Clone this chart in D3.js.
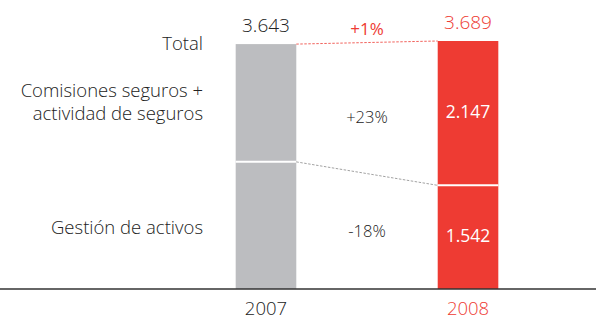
<!DOCTYPE html>
<html>
<head>
<meta charset="utf-8">
<script src="https://cdn.jsdelivr.net/npm/d3@7"></script>
<style>
  html, body { margin: 0; padding: 0; background: #fff; }
  svg { display: block; font-family: "Open Sans", "Noto Sans", sans-serif; font-weight: 300; }
</style>
</head>
<body>
<svg id="chart" width="596" height="320"></svg>
<script>
// Years shown on the horizontal axis
const years = ["2007", "2008"];
// Stack components (millions), bottom to top
const gestionActivos = [1891, 1542];
const comisionesSeguros = [1752, 2147];
const totals = [3643, 3689];
// Row labels for the stack components
const rowLabels = [["Total"], ["Comisiones seguros +", "actividad de seguros"], ["Gestión de activos"]];
// Year-over-year change labels: total, seguros, gestión
const changeLabels = ["+1%", "+23%", "-18%"];

const GREY = "#bcbdc0";
const RED = "#ee3b33";
const INK = "#222222";

const svg = d3.select("#chart");
const baseY = 289;

const x = d3.scaleBand().domain(years).range([207, 527]).paddingInner(0.7).paddingOuter(0.142);
const y = d3.scaleLinear().domain([0, 3689]).range([baseY, 41]);
const fill = d3.scaleOrdinal().domain(years).range([GREY, RED]);

const stacks = years.map((yr, i) => ({
  year: yr,
  segments: [
    { key: "gestion", y0: 0, y1: gestionActivos[i] },
    { key: "seguros", y0: gestionActivos[i], y1: gestionActivos[i] + comisionesSeguros[i] }
  ],
  total: totals[i]
}));

// Bars
const groups = svg.selectAll("g.bar").data(stacks).join("g").attr("class", "bar");
groups.selectAll("rect")
  .data(d => d.segments.map(s => ({ ...s, year: d.year })))
  .join("rect")
  .attr("x", d => x(d.year))
  .attr("width", x.bandwidth())
  .attr("y", d => y(d.y1))
  .attr("height", d => y(d.y0) - y(d.y1))
  .attr("fill", d => fill(d.year));

// White divider between the two segments
groups.append("line")
  .attr("x1", d => x(d.year))
  .attr("x2", d => x(d.year) + x.bandwidth())
  .attr("y1", d => y(d.segments[0].y1))
  .attr("y2", d => y(d.segments[0].y1))
  .attr("stroke", "#fff")
  .attr("stroke-width", 2);

// Dashed connectors between the bars
const xr = x(years[0]) + x.bandwidth();
const xl = x(years[1]);
svg.append("line")
  .attr("x1", xr).attr("x2", xl)
  .attr("y1", y(totals[0])).attr("y2", y(totals[1]))
  .attr("stroke", RED).attr("stroke-width", 0.8).attr("stroke-dasharray", "2.5,1.5");
svg.append("line")
  .attr("x1", xr).attr("x2", xl)
  .attr("y1", y(gestionActivos[0])).attr("y2", y(gestionActivos[1]))
  .attr("stroke", "#8a8a8a").attr("stroke-width", 0.8).attr("stroke-dasharray", "2.5,1.5");

// Baseline axis
svg.append("line")
  .attr("x1", 0).attr("x2", 596).attr("y1", baseY).attr("y2", baseY)
  .attr("stroke", "#333").attr("stroke-width", 1.5);

// Year labels
svg.selectAll("text.year").data(years).join("text")
  .attr("class", "year")
  .attr("x", d => x(d) + x.bandwidth() / 2)
  .attr("y", 315)
  .attr("text-anchor", "middle")
  .attr("font-size", 18.5)
  .attr("fill", (d, i) => i === 0 ? INK : RED)
  .text(d => d);

// Totals above bars
const fmt = v => d3.format(",")(v).replace(/,/g, ".");
svg.selectAll("text.total").data(stacks).join("text")
  .attr("class", "total")
  .attr("x", d => x(d.year) + x.bandwidth() / 2)
  .attr("y", d => y(d.total) - 12)
  .attr("text-anchor", "middle")
  .attr("font-size", 19)
  .attr("fill", (d, i) => i === 0 ? INK : RED)
  .text(d => fmt(d.total));

// Segment values inside the 2008 bar
const last = stacks[1];
svg.selectAll("text.seg").data(last.segments).join("text")
  .attr("class", "seg")
  .attr("x", x(last.year) + x.bandwidth() / 2)
  .attr("y", d => (y(d.y0) + y(d.y1)) / 2 + 5)
  .attr("text-anchor", "middle")
  .attr("font-size", 17.5)
  .attr("font-weight", 400)
  .attr("fill", "#fff")
  .text(d => fmt(d.y1 - d.y0));

// Row labels on the left, aligned to the 2007 bar segments
const first = stacks[0];
const rowY = [
  y(first.total),
  (y(first.segments[1].y0) + y(first.segments[1].y1)) / 2,
  (y(first.segments[0].y0) + y(first.segments[0].y1)) / 2 + 3
];
const lineH = 23;
rowLabels.forEach((lines, i) => {
  const t = svg.append("text")
    .attr("text-anchor", "end")
    .attr("font-size", 18.5)
    .attr("fill", INK);
  lines.forEach((ln, j) => {
    t.append("tspan")
      .attr("x", 203)
      .attr("y", rowY[i] + 6 + (j - (lines.length - 1) / 2) * lineH)
      .text(ln);
  });
});

// Change labels between the bars
const midX = (xr + xl) / 2;
const changeY = [
  (y(totals[0]) + y(totals[1])) / 2 - 8,
  ((y(first.segments[1].y0) + y(first.segments[1].y1)) / 2 + (y(last.segments[1].y0) + y(last.segments[1].y1)) / 2) / 2 + 15,
  ((y(first.segments[0].y0) + y(first.segments[0].y1)) / 2 + (y(last.segments[0].y0) + y(last.segments[0].y1)) / 2) / 2 + 6
];
svg.selectAll("text.change").data(changeLabels).join("text")
  .attr("class", "change")
  .attr("x", midX)
  .attr("y", (d, i) => changeY[i])
  .attr("text-anchor", "middle")
  .attr("font-size", (d, i) => i === 0 ? 17 : 16.5)
  .attr("font-weight", (d, i) => i === 0 ? 400 : 300)
  .attr("fill", (d, i) => i === 0 ? RED : INK)
  .text(d => d);
</script>
</body>
</html>
